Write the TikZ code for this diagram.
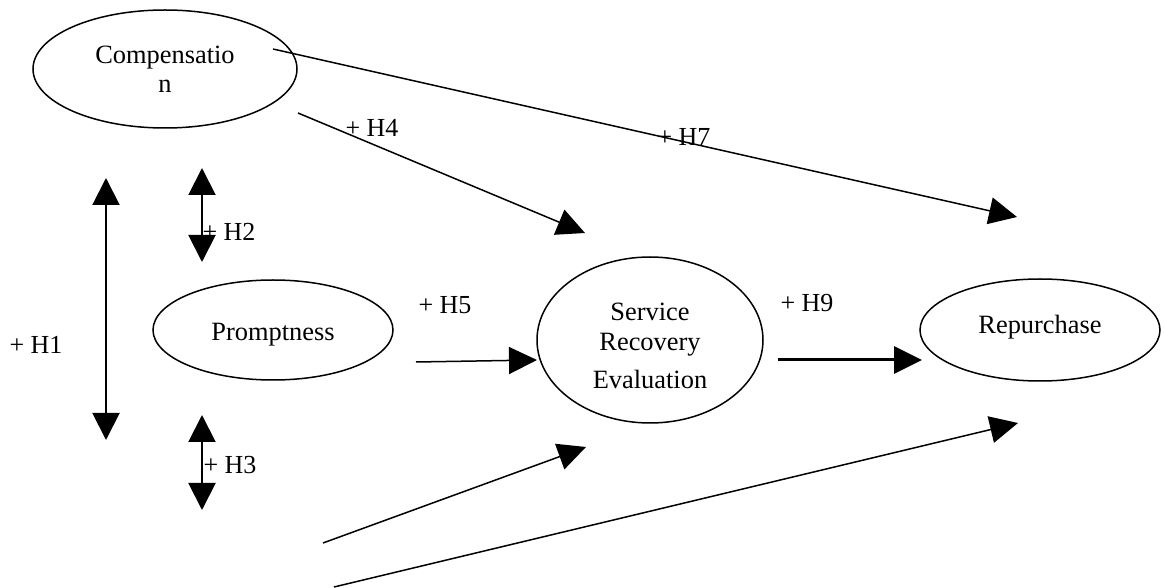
\documentclass[tikz,border=0pt]{standalone}
\usepackage{fontspec}
\setmainfont{Liberation Serif}
\usetikzlibrary{arrows.meta,shapes.geometric}
\begin{document}
\begin{tikzpicture}[x=0.5pt,y=-0.5pt,
  ell/.style={draw,ellipse,line width=0.75pt,inner sep=0pt,align=center,font=\fontsize{13.2}{15}\selectfont},
  lbl/.style={font=\fontsize{13}{15}\selectfont,inner sep=0pt},
  arr/.style={line width=0.75pt,-{Triangle[length=14pt,width=13.5pt]}},
  thickarr/.style={line width=1.5pt,-{Triangle[length=14pt,width=13.5pt]}},
  dbl/.style={line width=1pt,{Triangle[length=13.5pt,width=13.5pt]}-{Triangle[length=13.5pt,width=13.5pt]}}]
\useasboundingbox (0,0) rectangle (1164,588);
% nodes
\node[ell,minimum width=132pt,minimum height=59pt,font=\fontsize{13.2}{14.5}\selectfont] (comp) at (165,69) {Compensatio\\n};
\node[ell,minimum width=120pt,minimum height=50pt] (prompt) at (273,330) {\raisebox{-2.5pt}[\height][\depth]{Promptness}};
\node[ell,minimum width=113pt,minimum height=83pt] (sre) at (650,340) {\raisebox{-4.5pt}[\height][\depth]{\begin{tabular}{@{}c@{}}Service\\Recovery\\[4pt]Evaluation\end{tabular}}};
\node[ell,minimum width=120pt,minimum height=51pt] (rep) at (1040,330) {\raisebox{1.5pt}[\height][\depth]{Repurchase}};
% connector end points
\coordinate (h7s) at (273,49);
\coordinate (h7e) at (1017,217);
\coordinate (h4s) at (298,113);
\coordinate (h4e) at (585,233);
\coordinate (h5s) at (416,362);
\coordinate (h5e) at (537,360);
\coordinate (h9s) at (778,360);
\coordinate (h9e) at (922,360);
\coordinate (l1s) at (323,543);
\coordinate (l1e) at (586,447);
\coordinate (l2s) at (334,587);
\coordinate (l2e) at (1018,423);
\coordinate (h1a) at (106,178);
\coordinate (h1b) at (106,440);
\coordinate (h2a) at (202,168);
\coordinate (h2b) at (202,262);
\coordinate (h3a) at (202,415);
\coordinate (h3b) at (202,510);
% connectors
\draw[arr] (h7s) -- (h7e);
\draw[arr] (h4s) -- (h4e);
\draw[arr] (h5s) -- (h5e);
\draw[thickarr] (h9s) -- (h9e);
\draw[arr] (l1s) -- (l1e);
\draw[arr] (l2s) -- (l2e);
\draw[dbl] (h1a) -- (h1b);
\draw[dbl] (h2a) -- (h2b);
\draw[dbl] (h3a) -- (h3b);
% labels
\node[lbl] (lh7) at (684,137) {+ H7};
\node[lbl] (lh4) at (372,128) {+ H4};
\node[lbl] (lh2) at (229,232) {+ H2};
\node[lbl] (lh3) at (230,465) {+ H3};
\node[lbl] (lh1) at (36,345) {+ H1};
\node[lbl] (lh5) at (445,305) {+ H5};
\node[lbl] (lh9) at (807,303) {+ H9};
\end{tikzpicture}
\end{document}
